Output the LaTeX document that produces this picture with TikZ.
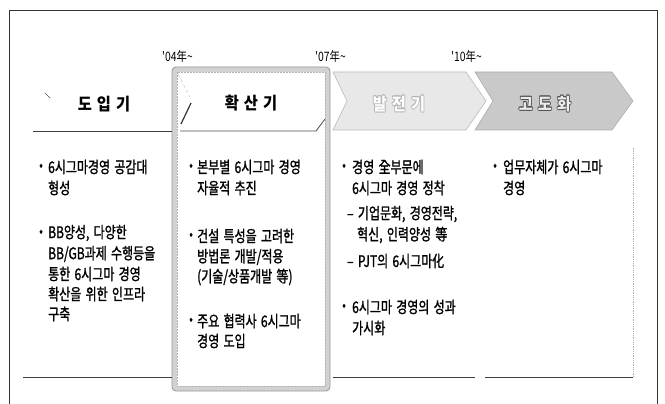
\documentclass[tikz,border=0pt]{standalone}
\usepackage{fontspec}
\newfontfamily\kr[FakeStretch=0.75,WordSpace=1.6,FakeBold=1.2]{Noto Sans CJK KR}
\newfontfamily\kryear[FakeStretch=0.8]{Noto Sans CJK KR}
\newfontfamily\krhead[FakeStretch=0.9]{Noto Sans CJK KR}
\begin{document}
\begin{tikzpicture}[x=1pt,y=-1pt,
  body/.style={anchor=west,inner sep=0pt,font=\kr\fontsize{16}{18}\selectfont},
  bul/.style={anchor=west,inner sep=0pt,font=\kr\fontsize{14.5}{17}\selectfont},
  head/.style={inner sep=0pt,font=\krhead\bfseries\fontsize{17}{20}\selectfont},
  yearlab/.style={anchor=west,inner sep=0pt,font=\kryear\fontsize{13}{15}\selectfont},
  frameline/.style={draw=black!80,line width=0.8pt},
  sepline/.style={draw=black!75,line width=0.9pt},
]
\useasboundingbox (0,0) rectangle (665,404);
\fill[white] (0,0) rectangle (665,404);
% outer frame
\draw[frameline] (9,404) -- (9,10) -- (657,10) -- (657,404);
% chevrons
\path[fill=gray!18,draw=gray!55,line width=0.6pt] (333,72) -- (466,72) -- (486,101) -- (466,130) -- (333,130) -- (347,101) -- cycle;
\path[fill=gray!42,draw=gray!65,line width=0.6pt] (475,72) -- (612,72) -- (633,101) -- (612,130) -- (475,130) -- (493,101) -- cycle;
% highlighted box
\fill[white] (172,67) rectangle (330,391);
\draw[gray!35,line width=5pt,rounded corners=3pt] (174.5,69.5) rectangle (327.5,388.5);
\draw[gray!80,line width=0.9pt,rounded corners=4pt] (172,67) rectangle (330,391);
\draw[gray!60,line width=0.5pt,densely dotted] (177,72) rectangle (325,386);
% header chevron inside box
\draw[gray!60,line width=0.4pt,dashed] (178,74) -- (190,97);
\draw[black!80,line width=1.2pt] (191,103) -- (181,124);
\draw[black!70,line width=0.8pt] (180,131) -- (316,131) -- (325,119);
% column-1 header line and stray tick
\draw[sepline] (33,131) -- (172,131);
\draw[black!70,line width=0.5pt] (45,93) -- (50,98);
% year labels
\node[yearlab] (y04) at (162,57) {'04年\string~};
\node[yearlab] (y07) at (315,57) {'07年\string~};
\node[yearlab] (y10) at (451,57) {'10年\string~};
% phase titles
\node[head] (p1) at (104,104) {도\hspace{5pt}입\hspace{5pt}기};
\node[head] (p2) at (251,103) {확\hspace{5pt}산\hspace{5pt}기};
\foreach \dx/\dy [count=\k] in {-0.7/0,0.7/0,0/-0.7,0/0.7,-0.5/-0.5,0.5/0.5,-0.5/0.5,0.5/-0.5}{
  \node[head,text=gray!60] (p3s\k) at (399+\dx,104+\dy) {발\hspace{5pt}전\hspace{5pt}기};
  \node[head,text=black!70] (p4s\k) at (545+\dx,104+\dy) {고\hspace{5pt}도\hspace{5pt}화};
}
\node[head,text=white] (p3) at (399,104) {발\hspace{5pt}전\hspace{5pt}기};
\node[head,text=gray!15] (p4) at (545,104) {고\hspace{5pt}도\hspace{5pt}화};
% bottom lines
\draw[sepline] (23,377) -- (172,377);
\draw[sepline] (333,377) -- (475,377);
\draw[sepline] (485,377) -- (633,377);
\draw[gray!60,line width=0.8pt,densely dotted] (633,377) -- (633,147);
% column 1
\node[bul] (b11) at (39,167) {•};
\node[body] (c1a) at (48,167) {6시그마경영 공감대};
\node[body] (c1b) at (48,188) {형성};
\node[bul] (b12) at (39,233) {•};
\node[body] (c1c) at (48,233) {BB양성, 다양한};
\node[body] (c1d) at (48,254) {BB/GB과제 수행등을};
\node[body] (c1e) at (48,274) {통한 6시그마 경영};
\node[body] (c1f) at (48,294) {확산을 위한 인프라};
\node[body] (c1g) at (48,314) {구축};
% column 2
\node[bul] (b21) at (189,167) {•};
\node[body] (c2a) at (197,167) {본부별 6시그마 경영};
\node[body] (c2b) at (197,188) {자율적 추진};
\node[bul] (b22) at (189,236) {•};
\node[body] (c2c) at (197,236) {건설 특성을 고려한};
\node[body] (c2d) at (197,257) {방법론 개발/적용};
\node[body] (c2e) at (197,277) {(기술/상품개발 等)};
\node[bul] (b23) at (189,321) {•};
\node[body] (c2f) at (197,321) {주요 협력사 6시그마};
\node[body] (c2g) at (197,341) {경영 도입};
% column 3
\node[bul] (b31) at (342,167) {•};
\node[body] (c3a) at (352,167) {경영 全부문에};
\node[body] (c3b) at (352,188) {6시그마 경영 정착};
\node[body] (c3c) at (347,214) {– 기업문화, 경영전략,};
\node[body] (c3d) at (357,235) {혁신, 인력양성 等};
\node[body] (c3e) at (347,261) {– PJT의 6시그마化};
\node[bul] (b32) at (342,307) {•};
\node[body] (c3f) at (352,307) {6시그마 경영의 성과};
\node[body] (c3g) at (352,328) {가시화};
% column 4
\node[bul] (b41) at (493,167) {•};
\node[body] (c4a) at (503,167) {업무자체가 6시그마};
\node[body] (c4b) at (503,188) {경영};
\end{tikzpicture}
\end{document}
